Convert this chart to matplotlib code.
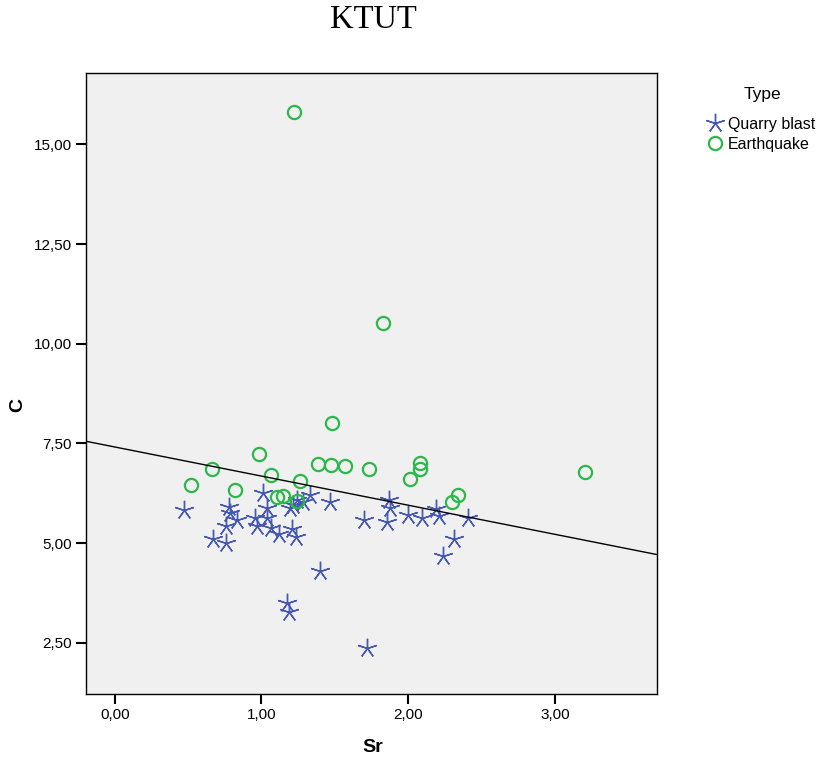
import numpy as np
import matplotlib.pyplot as plt
from matplotlib.ticker import FuncFormatter

# Sr / C values per event type
quarry_sr = [0.473, 0.776, 0.786, 0.832, 0.759, 0.670, 0.759, 1.013, 1.035, 0.953,
             0.967, 1.036, 1.065, 1.120, 1.195, 1.207, 1.236, 1.243, 1.286, 1.217,
             1.331, 1.468, 1.872, 1.877, 1.699, 1.854, 2.001, 2.093, 2.190, 2.213,
             2.406, 2.315, 2.240, 1.399, 1.172, 1.188, 1.718]
quarry_c = [5.83, 5.90, 5.75, 5.58, 5.43, 5.09, 4.99, 6.26, 5.87, 5.64,
            5.43, 5.62, 5.39, 5.23, 5.87, 5.35, 5.14, 6.08, 6.04, 5.95,
            6.21, 6.04, 6.08, 5.87, 5.58, 5.54, 5.70, 5.62, 5.85, 5.68,
            5.62, 5.09, 4.68, 4.31, 3.49, 3.28, 2.38]

quake_sr = [0.520, 0.661, 0.820, 0.984, 1.063, 1.108, 1.145, 1.245, 1.263, 1.388,
            1.472, 1.570, 1.736, 2.081, 2.081, 2.013, 2.342, 2.301, 1.481, 1.826,
            1.224, 3.207]
quake_c = [6.46, 6.85, 6.34, 7.23, 6.71, 6.15, 6.18, 6.06, 6.56, 6.98,
           6.96, 6.94, 6.87, 7.00, 6.87, 6.61, 6.21, 6.04, 8.01, 10.53,
           15.82, 6.79]

# total fit line
fit_intercept = 7.41
fit_slope = -0.73

x_ticks = [0, 1, 2, 3]
y_ticks = [2.5, 5.0, 7.5, 10.0, 12.5, 15.0]

blue = '#4659b0'
green = '#2bb84a'
W, H = 819, 760

fig = plt.figure(figsize=(8.19, 7.60), dpi=100)
ax = fig.add_axes([86 / W, 1 - 694 / H, (657 - 86) / W, (694 - 73) / H])
ax.set_facecolor('#f0f0f0')

ax.plot(quarry_sr, quarry_c, linestyle='none', marker=(5, 2, 0), markersize=14,
        markeredgewidth=1.0, color=blue, label='Quarry blast', zorder=2)
ax.plot(quake_sr, quake_c, linestyle='none', marker='o', markersize=9.5,
        markerfacecolor='none', markeredgewidth=1.6, markeredgecolor=green,
        label='Earthquake', zorder=3)

xlim = (-0.196, 3.697)
xs = np.array(xlim)
ax.plot(xs, fit_intercept + fit_slope * xs, color='black', linewidth=1.0, zorder=4)

ax.set_xlim(xlim)
ax.set_ylim(1.214, 16.79)
ax.set_xticks(x_ticks)
ax.set_yticks(y_ticks)
comma = FuncFormatter(lambda v, p: f'{v:.2f}'.replace('.', ','))
ax.xaxis.set_major_formatter(comma)
ax.yaxis.set_major_formatter(comma)
ax.tick_params(direction='out', length=7, width=1.5, labelsize=11, pad=3)
for s in ax.spines.values():
    s.set_linewidth(1.0)

for lab in ax.get_xticklabels() + ax.get_yticklabels():
    lab.set_fontfamily('Liberation Sans')

# axis titles and chart title
fig.text(373 / W, 1 - 748 / H, 'Sr', ha='center', va='center',
         fontsize=14, fontweight='bold', family='Liberation Sans')
fig.text(18 / W, 1 - 405 / H, 'C', ha='center', va='center', rotation=90,
         fontsize=14, fontweight='bold', family='Liberation Sans')
fig.text(373 / W, 1 - 20 / H, 'KTUT', ha='center', va='center',
         fontsize=23.5, family='Liberation Serif')

# legend
fig.text(762 / W, 1 - 94 / H, 'Type', ha='center', va='center',
         fontsize=12.5, family='Liberation Sans')
leg = fig.legend(loc='upper left', bbox_to_anchor=(707 / W, 1 - 117 / H),
                 frameon=False, handletextpad=0.3,
                 handlelength=1.0, borderaxespad=0, borderpad=0,
                 labelspacing=0.3, prop={'family': 'Liberation Sans', 'size': 11.5})

fig.savefig('out.png', dpi=100)
